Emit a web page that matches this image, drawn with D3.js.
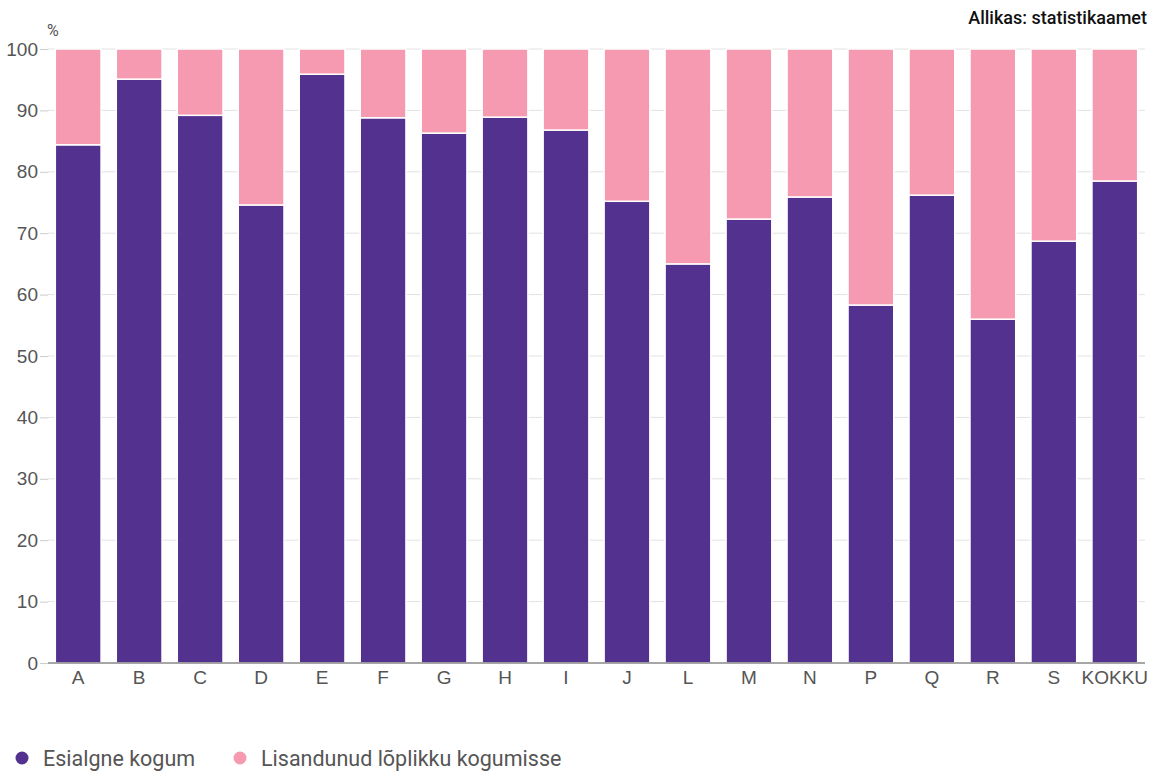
<!DOCTYPE html>
<html>
<head>
<meta charset="utf-8">
<script src="https://cdn.jsdelivr.net/npm/d3@7"></script>
<style>
  body { margin: 0; background: #fff; font-family: Roboto, "Noto Sans", sans-serif; }
  .tick text { fill: #555; font-size: 19px; }
</style>
</head>
<body>
<div id="chart"></div>
<script>
const categories = ["A", "B", "C", "D", "E", "F", "G", "H", "I", "J", "L", "M", "N", "P", "Q", "R", "S", "KOKKU"];
const initial = [84.4, 95.1, 89.2, 74.6, 95.9, 88.8, 86.3, 88.9, 86.8, 75.2, 65.0, 72.3, 75.9, 58.3, 76.2, 56.0, 68.7, 78.5];
const added = initial.map(v => +(100 - v).toFixed(1));
const seriesNames = ["Esialgne kogum", "Lisandunud lõplikku kogumisse"];
const colors = ["#52318f", "#f59ab0"];
const yTicks = [0, 10, 20, 30, 40, 50, 60, 70, 80, 90, 100];

const width = 1153, height = 771;
const margin = { top: 49, right: 8, bottom: 108, left: 48 };

const svg = d3.select("#chart").append("svg")
  .attr("width", width)
  .attr("height", height);

const x = d3.scaleBand()
  .domain(categories)
  .range([margin.left, width - margin.right])
  .paddingInner(0.25)
  .paddingOuter(0.12);

const y = d3.scaleLinear()
  .domain([0, 100])
  .range([height - margin.bottom, margin.top]);

// grid
svg.append("g")
  .selectAll("line")
  .data(yTicks.filter(d => d > 0))
  .enter().append("line")
  .attr("x1", margin.left)
  .attr("x2", width - margin.right)
  .attr("y1", d => y(d))
  .attr("y2", d => y(d))
  .attr("stroke", "#e2e2e2");

const rows = categories.map((c, i) => ({ cat: c, a: initial[i], b: added[i] }));
const stacked = d3.stack().keys(["a", "b"])(rows);

svg.append("g")
  .selectAll("g")
  .data(stacked)
  .enter().append("g")
  .attr("fill", (d, i) => colors[i])
  .selectAll("rect")
  .data(d => d)
  .enter().append("rect")
  .attr("x", d => x(d.data.cat))
  .attr("width", x.bandwidth())
  .attr("y", d => y(d[1]))
  .attr("height", d => y(d[0]) - y(d[1]))
  .attr("stroke", "#fff")
  .attr("stroke-width", 1.5);

// y axis
const yAxis = svg.append("g")
  .attr("transform", `translate(${margin.left},0)`)
  .call(d3.axisLeft(y).tickValues(yTicks).tickSize(8).tickPadding(2));
yAxis.select(".domain").remove();
yAxis.selectAll(".tick line").attr("stroke", "#ccc");

// x axis
const xAxis = svg.append("g")
  .attr("transform", `translate(0,${y(0)})`)
  .call(d3.axisBottom(x).tickSize(0).tickPadding(8));
xAxis.select(".domain").attr("stroke", "#888").attr("stroke-width", 1.5)
  .attr("d", `M${margin.left},0H${width - margin.right}`);

svg.append("text")
  .attr("x", 47)
  .attr("y", 36)
  .attr("fill", "#555")
  .attr("font-size", 16)
  .text("%");

svg.append("text")
  .attr("x", width - 6)
  .attr("y", 24)
  .attr("text-anchor", "end")
  .attr("font-size", 18)
  .attr("font-weight", 500)
  .attr("fill", "#111")
  .text("Allikas: statistikaamet");

// legend
const legendX = [22, 240];
const legend = svg.append("g")
  .selectAll("g")
  .data(seriesNames)
  .enter().append("g")
  .attr("transform", (d, i) => `translate(${legendX[i]},758)`);
legend.append("circle")
  .attr("r", 6.5)
  .attr("fill", (d, i) => colors[i]);
legend.append("text")
  .attr("x", 21)
  .attr("dy", "0.35em")
  .attr("font-size", 21.5)
  .attr("fill", "#555")
  .text(d => d);
</script>
</body>
</html>
